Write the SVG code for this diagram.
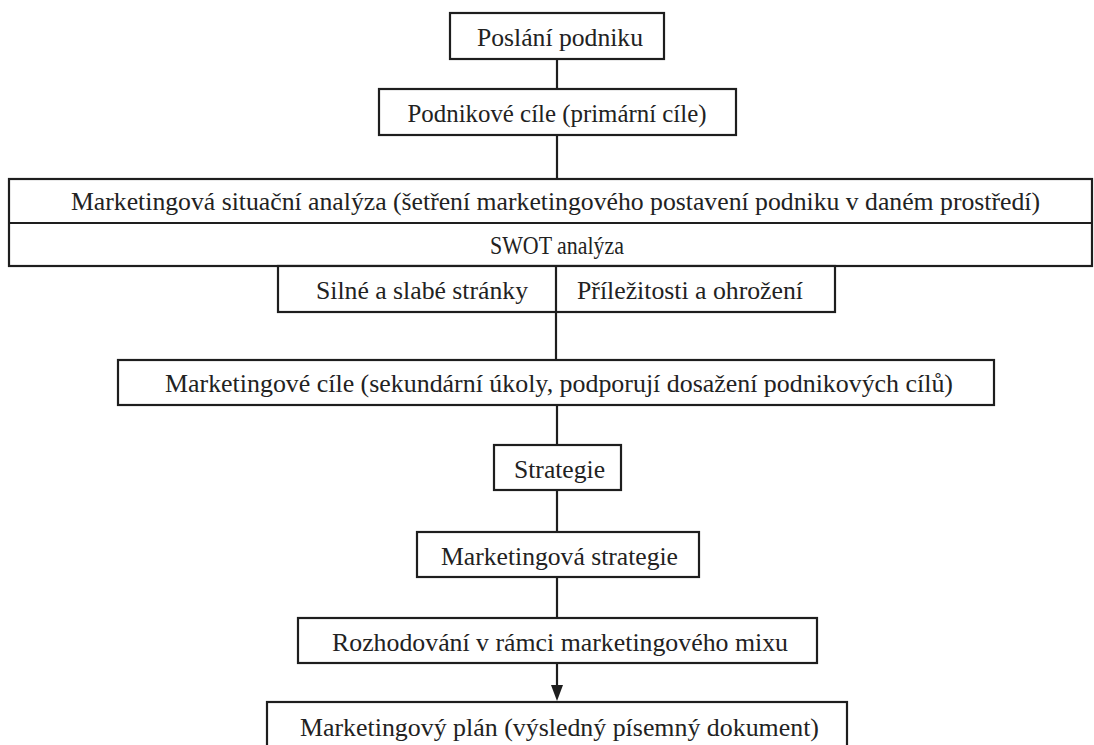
<svg xmlns="http://www.w3.org/2000/svg" width="1094" height="745" viewBox="0 0 1094 745">
<style>
.box{fill:#fff;stroke:#1e1e1e;stroke-width:2.2}
.ln{stroke:#1e1e1e;stroke-width:2.2;fill:none}
text{font-family:"Liberation Serif","Times New Roman",serif;font-size:25px;fill:#222;text-anchor:middle}
</style>
<rect width="1094" height="745" fill="#fff"/>
<g id="connectors">
<line class="ln" x1="557" y1="59" x2="557" y2="89"/>
<line class="ln" x1="557" y1="135" x2="557" y2="179"/>
<line class="ln" x1="556" y1="312" x2="556" y2="360"/>
<line class="ln" x1="557" y1="405" x2="557" y2="445"/>
<line class="ln" x1="557" y1="490" x2="557" y2="532"/>
<line class="ln" x1="557" y1="577" x2="557" y2="618"/>
<line class="ln" x1="557" y1="663" x2="557" y2="686"/>
<path d="M551,685 L563,685 L557,701 Z" fill="#1e1e1e"/>
</g>
<g id="n1">
<rect class="box" x="450" y="13" width="214" height="46"/>
<text x="560" y="46" textLength="166" lengthAdjust="spacingAndGlyphs">Poslání podniku</text>
</g>
<g id="n2">
<rect class="box" x="379" y="89" width="357" height="46"/>
<text x="557" y="122" textLength="299" lengthAdjust="spacingAndGlyphs">Podnikové cíle (primární cíle)</text>
</g>
<g id="n3">
<rect class="box" x="9" y="179" width="1083" height="87"/>
<line class="ln" x1="9" y1="223" x2="1092" y2="223"/>
<text x="555.5" y="210" textLength="969" lengthAdjust="spacingAndGlyphs">Marketingová situační analýza (šetření marketingového postavení podniku v daném prostředí)</text>
<text x="557" y="254" textLength="134" lengthAdjust="spacingAndGlyphs">SWOT analýza</text>
</g>
<g id="n4">
<rect class="box" x="278" y="266" width="557" height="46"/>
<line class="ln" x1="556" y1="266" x2="556" y2="312"/>
<text x="422" y="299" textLength="212" lengthAdjust="spacingAndGlyphs">Silné a slabé stránky</text>
<text x="690" y="299" textLength="226" lengthAdjust="spacingAndGlyphs">Příležitosti a ohrožení</text>
</g>
<g id="n5">
<rect class="box" x="118" y="360" width="876" height="45"/>
<text x="559" y="392" textLength="788" lengthAdjust="spacingAndGlyphs">Marketingové cíle (sekundární úkoly, podporují dosažení podnikových cílů)</text>
</g>
<g id="n6">
<rect class="box" x="494" y="445" width="127" height="45"/>
<text x="559.5" y="478" textLength="91" lengthAdjust="spacingAndGlyphs">Strategie</text>
</g>
<g id="n7">
<rect class="box" x="417" y="532" width="282" height="45"/>
<text x="559.5" y="565" textLength="237" lengthAdjust="spacingAndGlyphs">Marketingová strategie</text>
</g>
<g id="n8">
<rect class="box" x="298" y="618" width="519" height="45"/>
<text x="560" y="651" textLength="456" lengthAdjust="spacingAndGlyphs">Rozhodování v rámci marketingového mixu</text>
</g>
<g id="n9">
<rect class="box" x="267" y="702" width="580" height="50"/>
<text x="559.5" y="736" textLength="519" lengthAdjust="spacingAndGlyphs">Marketingový plán (výsledný písemný dokument)</text>
</g>
</svg>
